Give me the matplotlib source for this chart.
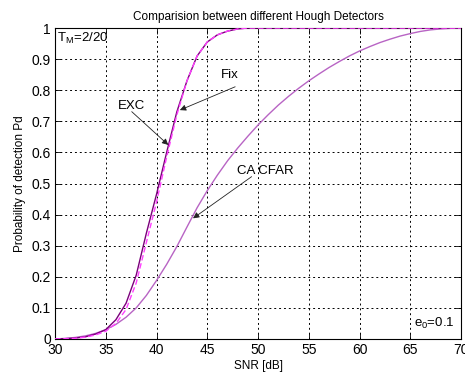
import matplotlib
matplotlib.use("Agg")
import matplotlib.pyplot as plt
import numpy as np

plt.rcParams['font.family'] = ['Liberation Sans', 'DejaVu Sans']

# SNR axis [dB]
snr = [30, 31, 32, 33, 34, 35, 36, 37, 38, 39, 40, 41, 42, 43, 44, 45, 46,
       47, 48, 49, 50, 51, 52, 53, 54, 55, 56, 57, 58, 59, 60, 61, 62, 63,
       64, 65, 66, 67, 68, 69, 70]

# Detection probability for each detector
pd_exc = [0.0, 0.001, 0.003, 0.007, 0.016, 0.03, 0.062, 0.115, 0.205, 0.34,
          0.465, 0.60, 0.73, 0.83, 0.91, 0.955, 0.978, 0.99, 0.997, 1.0,
          1.0, 1.0, 1.0, 1.0, 1.0, 1.0, 1.0, 1.0, 1.0, 1.0, 1.0, 1.0, 1.0,
          1.0, 1.0, 1.0, 1.0, 1.0, 1.0, 1.0, 1.0]
pd_fix = [0.0, 0.001, 0.002, 0.006, 0.013, 0.025, 0.05, 0.095, 0.18, 0.31,
          0.44, 0.585, 0.72, 0.83, 0.91, 0.955, 0.978, 0.99, 0.997, 1.0,
          1.0, 1.0, 1.0, 1.0, 1.0, 1.0, 1.0, 1.0, 1.0, 1.0, 1.0, 1.0, 1.0,
          1.0, 1.0, 1.0, 1.0, 1.0, 1.0, 1.0, 1.0]
pd_cacfar = [0.0, 0.002, 0.005, 0.01, 0.018, 0.03, 0.047, 0.07, 0.10,
             0.14, 0.188, 0.24, 0.297, 0.36, 0.422, 0.477, 0.527, 0.573,
             0.614, 0.652, 0.688, 0.721, 0.752, 0.78, 0.806, 0.83, 0.852,
             0.873, 0.892, 0.91, 0.926, 0.94, 0.953, 0.964, 0.974, 0.982,
             0.989, 0.994, 0.997, 0.999, 1.0]

# Saturation level line
sat_snr = [35.4, 70]
sat_pd = [1.0, 1.0]

# Annotation labels: (text, text x, text y, arrow tail x, tail y, head x, head y)
notes = [
    ("EXC", 37.5, 0.75, 37.56, 0.731, 41.16, 0.624),
    ("Fix", 47.24, 0.849, 47.75, 0.811, 42.3, 0.736),
    ("CA CFAR", 50.74, 0.54, 49.37, 0.522, 43.6, 0.388),
]

fig = plt.figure(figsize=(4.65, 3.74), dpi=100, facecolor='white')
ax = fig.add_axes([55 / 465, 1 - 339 / 374, 406 / 465, 311 / 374])

ax.plot(sat_snr, sat_pd, color='#a000a0', lw=1.2, zorder=2)
ax.plot(snr, pd_cacfar, color='#b864c4', lw=1.0, zorder=3)
ax.plot(snr, pd_exc, color='#7a007a', lw=1.0, zorder=4)
ax.plot(snr, pd_fix, color='#ff40ff', lw=1.0, ls=(0, (4, 2)), zorder=5)

ax.set_xlim(30, 70)
ax.set_ylim(0, 1)
ax.set_xticks(np.arange(30, 71, 5))
ax.set_yticks(np.round(np.arange(0, 1.01, 0.1), 1))
ax.set_yticklabels(['0', '0.1', '0.2', '0.3', '0.4', '0.5', '0.6', '0.7',
                    '0.8', '0.9', '1'])
ax.tick_params(direction='in', length=4, width=0.6, labelsize=10,
               top=True, right=True, pad=3)
ax.grid(True, color='black', lw=0.7, ls=(0, (2, 3)))
for s in ax.spines.values():
    s.set_linewidth(0.8)
    s.set_color('black')

ax.set_title('Comparision between different Hough Detectors', fontsize=8.5,
             pad=6)
ax.set_xlabel('SNR [dB]', fontsize=8.5, labelpad=2)
ax.set_ylabel('Probability of detection Pd', fontsize=8.5, labelpad=4)

ax.text(30.2, 0.965, r'$\mathregular{T_M}$=2/20', fontsize=9.5,
        va='center', ha='left')
ax.text(65.4, 0.05, r'$\mathregular{e_0}$=0.1', fontsize=9.5,
        va='center', ha='left')

for label, tx, ty, ax0, ay0, hx, hy in notes:
    ax.text(tx, ty, label, fontsize=9.5, ha='center', va='center', zorder=6)
    ax.annotate('', xy=(hx, hy), xytext=(ax0, ay0),
                arrowprops=dict(arrowstyle='-|>', color='#222222', lw=0.6,
                                mutation_scale=9, shrinkA=0, shrinkB=0),
                zorder=6)

fig.savefig('out.png', dpi=100, facecolor='white')
